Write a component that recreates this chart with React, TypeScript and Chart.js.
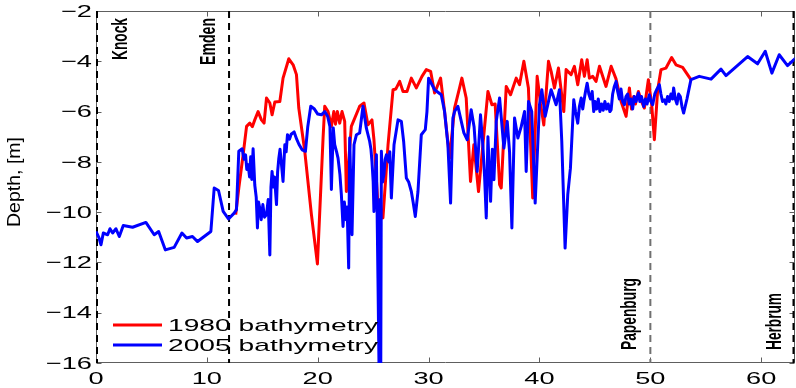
import React, { useEffect, useRef } from "react";
import { Chart, registerables } from "chart.js";
Chart.register(...registerables);

// ---- data ----
const xTickValues = [0, 10, 20, 30, 40, 50, 60];
const yTickValues = [-2, -4, -6, -8, -10, -12, -14, -16];
const xTickLabels = ["0", "10", "20", "30", "40", "50", "60"];
const yTickLabels = ["\u22122", "\u22124", "\u22126", "\u22128", "\u221210", "\u221212", "\u221214", "\u221216"];
const seriesNames = ["1980 bathymetry", "2005 bathymetry"];
const stationNames = ["Knock", "Emden", "Papenburg", "Herbrum"];
const stationKm = [0, 12, 50, 63];

const redX = [12.6, 12.88, 13.27, 13.58, 13.87, 14.1, 14.32, 14.62, 14.92, 15.16, 15.38, 15.68, 15.88, 16.13, 16.58, 16.87, 17.39, 17.78, 18.08, 18.29, 18.83, 19.43, 19.97, 20.48, 20.63, 20.93, 21.23, 21.45, 21.6, 21.77, 21.98, 22.19, 22.43, 22.58, 23.03, 23.78, 24.17, 24.53, 24.89, 25.07, 25.43, 25.88, 26.34, 26.79, 27.05, 27.39, 27.69, 28.05, 28.44, 28.89, 29.4, 29.79, 30.18, 30.54, 31.08, 31.44, 31.89, 32.34, 32.79, 33.0, 33.39, 33.78, 34.08, 34.5, 34.9, 35.35, 35.71, 36.0, 36.4, 36.55, 37.0, 37.39, 37.9, 38.2, 38.59, 39.0, 39.39, 39.79, 40.1, 40.39, 40.81, 41.05, 41.35, 41.71, 42.19, 42.4, 42.85, 43.15, 43.45, 43.81, 44.05, 44.3, 44.5, 44.8, 45.1, 45.41, 46.0, 46.46, 46.9, 47.36, 47.81, 48.11, 48.3, 48.5, 48.65, 48.92, 49.2, 49.46, 49.82, 50.12, 50.36, 50.66, 50.96, 51.41, 51.92, 52.31, 52.91, 53.66];
const redY = [-10.1, -9.04, -7.72, -6.59, -6.46, -6.6, -6.33, -6.0, -6.33, -6.46, -5.46, -5.66, -6.13, -5.62, -5.6, -4.67, -3.9, -4.14, -4.53, -5.86, -7.58, -10.1, -12.06, -7.05, -5.79, -6.0, -6.59, -6.0, -6.5, -6.0, -6.46, -6.0, -6.39, -9.18, -6.59, -5.79, -5.66, -6.53, -6.33, -7.12, -9.7, -10.23, -7.32, -5.13, -5.1, -4.8, -5.2, -5.2, -4.67, -5.06, -4.6, -4.33, -4.4, -5.26, -4.67, -6.0, -7.85, -5.86, -5.06, -4.67, -5.46, -8.78, -7.32, -9.18, -7.3, -5.2, -5.73, -5.7, -8.9, -9.04, -5.0, -5.33, -4.67, -4.93, -4.0, -5.06, -9.44, -4.6, -5.7, -6.53, -4.0, -4.4, -5.06, -4.27, -6.0, -4.33, -4.53, -4.2, -4.93, -3.94, -4.6, -3.94, -4.67, -4.6, -4.8, -4.2, -5.0, -4.2, -4.7, -5.6, -6.19, -5.06, -5.9, -5.4, -5.7, -5.2, -5.6, -5.86, -4.73, -5.73, -7.12, -5.13, -4.33, -4.27, -3.85, -4.14, -4.24, -4.73];

const blueX = [0, 0.25, 0.45, 0.66, 1.05, 1.26, 1.5, 1.8, 2.1, 2.46, 3.3, 4.5, 5.25, 5.65, 6.25, 7.05, 7.75, 8.17, 8.7, 9.16, 10.36, 10.66, 11.05, 11.47, 11.95, 12.46, 12.67, 12.88, 13.18, 13.35, 13.49, 13.6, 13.72, 13.85, 13.95, 14.05, 14.17, 14.32, 14.45, 14.56, 14.66, 14.77, 14.9, 15.05, 15.2, 15.38, 15.53, 15.68, 15.78, 15.88, 16.0, 16.1, 16.28, 16.38, 16.49, 16.6, 16.75, 16.87, 17.03, 17.15, 17.27, 17.45, 17.6, 17.87, 18.1, 18.3, 18.59, 18.89, 19.1, 19.37, 19.7, 20.0, 20.33, 20.63, 20.9, 21.1, 21.23, 21.4, 21.53, 21.7, 21.83, 22.0, 22.13, 22.28, 22.4, 22.55, 22.65, 22.79, 22.88, 23.09, 23.27, 23.49, 23.78, 24.08, 24.38, 24.68, 24.8, 24.89, 25.0, 25.07, 25.2, 25.29, 25.43, 25.55, 25.62, 25.68, 25.74, 25.85, 25.97, 26.08, 26.19, 26.4, 26.5, 26.64, 26.88, 27.24, 27.54, 27.75, 27.99, 28.2, 28.44, 28.6, 28.8, 29.04, 29.34, 29.7, 29.85, 30.0, 30.54, 31.14, 31.44, 31.74, 31.98, 32.19, 32.34, 32.64, 32.9, 33.18, 33.48, 33.84, 34.1, 34.38, 34.68, 34.9, 35.05, 35.2, 35.35, 35.59, 35.75, 35.89, 36.1, 36.4, 36.79, 37.09, 37.3, 37.51, 37.75, 38.05, 38.35, 38.65, 38.8, 39.01, 39.3, 39.61, 40.0, 40.21, 40.51, 41.05, 41.5, 41.8, 42.01, 42.31, 42.55, 42.79, 43.09, 43.25, 43.45, 43.6, 43.76, 43.9, 44.0, 44.15, 44.3, 44.45, 44.6, 44.75, 44.89, 45.0, 45.15, 45.3, 45.45, 45.6, 45.75, 45.9, 46.05, 46.2, 46.35, 46.46, 46.6, 46.75, 46.91, 47.05, 47.2, 47.35, 47.5, 47.66, 47.8, 47.95, 48.1, 48.25, 48.4, 48.55, 48.7, 48.92, 49.05, 49.2, 49.4, 49.55, 49.7, 49.91, 50.05, 50.21, 50.4, 50.6, 50.81, 50.95, 51.1, 51.26, 51.4, 51.55, 51.7, 51.85, 52.0, 52.1, 52.25, 52.4, 52.55, 52.7, 52.85, 53.0, 53.3, 53.66, 54.41, 55.47, 56.37, 56.82, 58.77, 59.67, 60.36, 60.96, 61.62, 62.37, 63.1];
const blueY = [-10.77, -11.0, -11.3, -10.83, -10.9, -10.66, -10.83, -10.66, -10.97, -10.53, -10.6, -10.41, -10.9, -10.77, -11.5, -11.4, -10.83, -11.03, -10.97, -11.17, -10.77, -9.04, -9.14, -9.97, -10.27, -10.04, -9.9, -7.58, -7.48, -7.9, -7.72, -8.3, -8.11, -8.6, -7.8, -8.7, -7.48, -8.92, -9.4, -10.63, -9.6, -9.84, -10.3, -9.7, -10.2, -10.1, -9.5, -11.7, -9.0, -8.38, -9.0, -8.6, -9.7, -8.4, -7.85, -7.5, -8.2, -8.78, -7.32, -7.6, -6.92, -7.1, -6.9, -6.81, -7.1, -7.3, -7.52, -7.58, -6.6, -5.79, -5.9, -6.1, -6.13, -6.0, -6.2, -6.6, -9.1, -6.65, -7.32, -7.6, -7.85, -8.5, -9.3, -10.57, -9.6, -10.3, -9.8, -12.22, -7.05, -10.9, -7.32, -6.92, -6.85, -5.79, -6.65, -7.18, -7.5, -7.98, -8.8, -9.97, -8.5, -7.72, -12.62, -17, -9.5, -17, -7.58, -8.8, -8.5, -7.9, -7.72, -8.0, -7.6, -9.44, -7.32, -6.33, -6.39, -7.2, -8.64, -8.8, -9.18, -9.6, -10.17, -9.18, -6.92, -6.72, -6.0, -4.67, -5.13, -5.33, -6.0, -7.32, -9.64, -6.26, -6.0, -5.79, -6.3, -6.85, -7.12, -5.93, -6.6, -8.38, -6.13, -7.4, -8.6, -10.23, -7.0, -9.57, -7.5, -8.71, -6.39, -5.46, -7.45, -6.39, -7.6, -10.63, -6.26, -7.05, -6.6, -6.0, -8.38, -5.6, -6.0, -9.64, -5.73, -5.13, -6.19, -5.13, -5.73, -5.13, -7.19, -11.43, -9.3, -8.25, -5.53, -6.0, -6.46, -5.8, -5.46, -5.9, -5.6, -5.2, -4.87, -5.3, -5.5, -5.2, -6.0, -5.6, -5.9, -5.5, -6.0, -5.7, -5.95, -5.6, -5.9, -5.7, -6.0, -5.93, -5.3, -5.0, -4.8, -5.2, -5.5, -5.1, -5.6, -5.73, -5.4, -5.3, -5.7, -5.5, -5.9, -5.4, -5.6, -5.26, -5.6, -5.4, -5.8, -5.5, -5.7, -5.33, -5.6, -5.73, -5.3, -5.1, -4.93, -5.3, -5.6, -5.53, -5.7, -5.4, -5.6, -5.3, -5.5, -5.06, -5.5, -5.7, -5.3, -5.4, -5.8, -6.06, -5.5, -4.73, -4.6, -4.71, -4.31, -4.57, -3.81, -4.1, -3.6, -4.47, -3.74, -4.17, -3.87];

const FONT = '"Liberation Sans", Arial, Helvetica, sans-serif';

function stretchedText(ctx: CanvasRenderingContext2D, text: string, x: number, y: number, font: string, sx: number, align: string) {
  ctx.save();
  ctx.font = font;
  const w = ctx.measureText(text).width * sx;
  const left = align === "center" ? x - w / 2 : align === "right" ? x - w : x;
  ctx.translate(left, y);
  ctx.scale(sx, 1);
  ctx.textAlign = "left";
  ctx.textBaseline = "middle";
  ctx.fillStyle = "#000";
  ctx.fillText(text, 0, 0);
  ctx.restore();
}

// rotated text (reading bottom->top); anchor is baseline x, and y at start/end
function rotatedText(ctx: CanvasRenderingContext2D, text: string, baseX: number, y: number, font: string, length: number, align: string) {
  ctx.save();
  ctx.font = font;
  const natural = ctx.measureText(text).width;
  const s = length / natural;
  ctx.translate(baseX, y);
  ctx.rotate(-Math.PI / 2);
  ctx.scale(s, 1);
  ctx.textAlign = align as CanvasTextAlign;
  ctx.textBaseline = "alphabetic";
  ctx.fillStyle = "#000";
  ctx.fillText(text, 0, 0);
  ctx.restore();
}

const decorPlugin = {
  id: "decor",
  beforeDatasetsDraw(chart: any) {
    const { ctx, chartArea: a, scales } = chart;
    const xs = scales.x;
    const ys = scales.y;
    ctx.save();
    const L = Math.round(a.left) + 0.5;
    const R = Math.round(a.right) - 0.5;
    const T = Math.round(a.top) + 0.5;
    const B = Math.round(a.bottom) - 0.5;
    ctx.strokeStyle = "#5e5e5e";
    ctx.lineWidth = 1;
    ctx.beginPath();
    ctx.moveTo(L, T); ctx.lineTo(R, T); ctx.lineTo(R, B); ctx.lineTo(L, B); ctx.closePath();
    xTickValues.forEach((v) => {
      const px = Math.round(xs.getPixelForValue(v)) + 0.5;
      ctx.moveTo(px, B); ctx.lineTo(px, B - 5);
      ctx.moveTo(px, T); ctx.lineTo(px, T + 5);
    });
    yTickValues.forEach((v) => {
      const py = Math.round(ys.getPixelForValue(v)) + 0.5;
      ctx.moveTo(L, py); ctx.lineTo(L + 5, py);
      ctx.moveTo(R, py); ctx.lineTo(R - 5, py);
    });
    ctx.stroke();
    // station dashed lines
    stationKm.forEach((km, i) => {
      let px = xs.getPixelForValue(km);
      if (i === 0) px = a.left + 1;
      if (i === stationKm.length - 1) px = Math.min(px, a.right - 1);
      ctx.beginPath();
      ctx.setLineDash([7, 5]);
      ctx.lineWidth = 2;
      ctx.strokeStyle = i === 2 ? "#707070" : "#000";
      ctx.moveTo(px, a.top);
      ctx.lineTo(px, a.bottom);
      ctx.stroke();
    });
    ctx.restore();
  },
  afterDraw(chart: any) {
    const { ctx, chartArea: a, scales } = chart;
    const xs = scales.x;
    const ys = scales.y;
    const tickFont = `17px ${FONT}`;
    xTickValues.forEach((v, i) => {
      stretchedText(ctx, xTickLabels[i], xs.getPixelForValue(v), a.bottom + 16, tickFont, 1.6, "center");
    });
    yTickValues.forEach((v, i) => {
      stretchedText(ctx, yTickLabels[i], a.left - 4, ys.getPixelForValue(v) + 1, tickFont, 1.6, "right");
    });
    // y axis title
    rotatedText(ctx, "Depth, [m]", 20, 182, `18px ${FONT}`, 90, "center");
    // station labels
    const bold = `bold 22px ${FONT}`;
    rotatedText(ctx, stationNames[0], xs.getPixelForValue(2.77), a.top + 7, bold, 42, "right");
    rotatedText(ctx, stationNames[1], xs.getPixelForValue(10.74), a.top + 7, bold, 47, "right");
    rotatedText(ctx, stationNames[2], xs.getPixelForValue(48.74), a.bottom - 13, bold, 72, "left");
    rotatedText(ctx, stationNames[3], xs.getPixelForValue(61.82), a.bottom - 13, bold, 57, "left");
    // legend
    const colors = ["#ff0000", "#0000ff"];
    const ly = [325, 345];
    ctx.save();
    ctx.lineWidth = 3;
    seriesNames.forEach((name, i) => {
      ctx.strokeStyle = colors[i];
      ctx.beginPath();
      ctx.moveTo(113, ly[i]);
      ctx.lineTo(162, ly[i]);
      ctx.stroke();
      ctx.font = tickFont;
      const w = ctx.measureText(name).width;
      stretchedText(ctx, name, 168, ly[i] + 1, tickFont, 210 / w, "left");
    });
    ctx.restore();
  },
};

export default function App() {
  const ref = useRef<HTMLCanvasElement>(null);
  useEffect(() => {
    if (!ref.current) return;
    const chart = new Chart(ref.current, {
      type: "line",
      data: {
        datasets: [
          {
            label: seriesNames[0],
            data: redX.map((x, i) => ({ x, y: redY[i] })),
            borderColor: "#ff0000",
            borderWidth: 3,
            pointRadius: 0,
            tension: 0,
            borderJoinStyle: "round",
            order: 1,
          },
          {
            label: seriesNames[1],
            data: blueX.map((x, i) => ({ x, y: blueY[i] })),
            borderColor: "#0000ff",
            borderWidth: 3,
            pointRadius: 0,
            tension: 0,
            borderJoinStyle: "round",
            order: 0,
          },
        ],
      },
      options: {
        animation: false,
        responsive: false,
        devicePixelRatio: 1,
        events: [],
        layout: { padding: { top: 11, right: 1.5, left: 0, bottom: 0 } },
        plugins: { legend: { display: false }, tooltip: { enabled: false } },
        scales: {
          x: {
            type: "linear",
            min: 0,
            max: 63,
            ticks: { display: false },
            grid: { display: false },
            border: { display: false },
            afterFit: (s: any) => { s.height = 25; },
          },
          y: {
            type: "linear",
            min: -16,
            max: -2,
            ticks: { display: false },
            grid: { display: false },
            border: { display: false },
            afterFit: (s: any) => { s.width = 96; },
          },
        },
      } as any,
      plugins: [decorPlugin],
    });
    return () => chart.destroy();
  }, []);
  return (
    <div style={{ position: "absolute", left: 0, top: 0, width: 796, height: 388, background: "#fff" }}>
      <canvas ref={ref} width={796} height={388} />
    </div>
  );
}
